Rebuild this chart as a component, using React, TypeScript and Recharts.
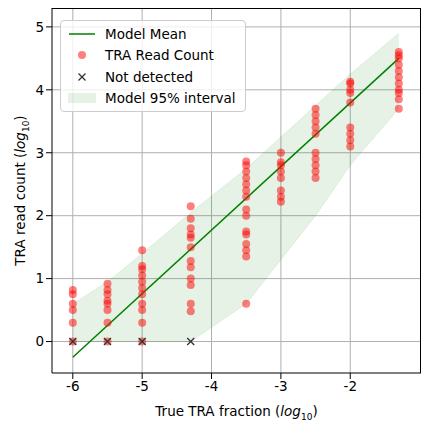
import React from 'react';
import { ComposedChart, Area, Line, Scatter, XAxis, YAxis, CartesianGrid } from 'recharts';

const bandX = [-6, -5.5, -5, -4.3, -3.5, -3, -2.5, -2, -1.3];
const bandLow = [0, 0, 0, 0, 0.6, 1.3, 2.0, 2.8, 3.7];
const bandHigh = [0.6, 0.95, 1.4, 2.05, 2.75, 3.25, 3.75, 4.25, 4.9];

const meanX = [-6, -1.3];
const meanY = [-0.25, 4.5];

const readCounts: [number, number[]][] = [
  [-6, [0, 0.3, 0.5, 0.6, 0.75, 0.82]],
  [-5.5, [0, 0.3, 0.5, 0.6, 0.65, 0.75, 0.82, 0.92]],
  [-5, [0, 0.3, 0.5, 0.6, 0.75, 0.85, 0.95, 1.05, 1.15, 1.2, 1.45]],
  [-4.3, [0.48, 0.6, 0.9, 1.0, 1.18, 1.28, 1.5, 1.65, 1.7, 1.8, 1.95, 2.15]],
  [-3.5, [0.6, 1.35, 1.45, 1.55, 1.7, 1.75, 2.0, 2.1, 2.3, 2.4, 2.5, 2.6, 2.7, 2.8, 2.86]],
  [-3, [2.22, 2.3, 2.4, 2.6, 2.7, 2.8, 2.85, 3.0]],
  [-2.5, [2.6, 2.7, 2.8, 2.9, 3.0, 3.3, 3.4, 3.5, 3.6, 3.7]],
  [-2, [3.1, 3.2, 3.3, 3.4, 3.8, 3.95, 4.0, 4.1, 4.13]],
  [-1.3, [3.7, 3.85, 3.95, 4.0, 4.1, 4.2, 4.3, 4.4, 4.5, 4.55, 4.6]],
];

const notDetectedX = [-6, -5.5, -5, -4.3];

const xTicks = [-6, -5, -4, -3, -2];
const yTicks = [0, 1, 2, 3, 4, 5];

const bandData = bandX.map((x, i) => ({ x, band: [bandLow[i], bandHigh[i]] }));
const meanData = meanX.map((x, i) => ({ x, y: meanY[i] }));
const pointData = readCounts.flatMap(([x, ys]) => ys.map(y => ({ x, y })));
const ndData = notDetectedX.map(x => ({ x, y: 0 }));

const font = 'DejaVu Sans, sans-serif';

const Cross = (props: any) => {
  const { cx, cy } = props;
  const s = 3.5;
  return (
    <g stroke="#333" strokeWidth={1.3}>
      <line x1={cx - s} y1={cy - s} x2={cx + s} y2={cy + s} />
      <line x1={cx - s} y1={cy + s} x2={cx + s} y2={cy - s} />
    </g>
  );
};

const Dot = (props: any) => <circle cx={props.cx} cy={props.cy} r={4} fill="#f00" fillOpacity={0.5} />;

const LegendBox = () => (
  <div style={{ position: 'absolute', left: 60, top: 20, border: '1px solid #ccc', borderRadius: 4, background: 'rgba(255,255,255,0.8)', padding: '2px 6px', fontFamily: font, fontSize: 13.5, width: 172 }}>
    {[
      ['line', 'Model Mean'],
      ['dot', 'TRA Read Count'],
      ['cross', 'Not detected'],
      ['patch', 'Model 95% interval'],
    ].map(([k, t]) => (
      <div key={t} style={{ display: 'flex', alignItems: 'center', height: 21.5 }}>
        <svg width={30} height={14} style={{ marginRight: 8 }}>
          {k === 'line' && <line x1={2} y1={7} x2={28} y2={7} stroke="green" strokeWidth={1.5} />}
          {k === 'dot' && <circle cx={15} cy={7} r={4} fill="#f00" fillOpacity={0.5} />}
          {k === 'cross' && <Cross cx={15} cy={7} />}
          {k === 'patch' && <rect x={1} y={2} width={28} height={10} fill="green" fillOpacity={0.1} />}
        </svg>
        {t}
      </div>
    ))}
  </div>
);

export default function App() {
  return (
    <div style={{ position: 'absolute', left: 0, top: 0, width: 432, height: 432, background: '#fff' }}>
      <ComposedChart width={432} height={432} margin={{ top: 8, right: 11, left: 0, bottom: 9 }}>
        <CartesianGrid stroke="#b0b0b0" horizontalValues={yTicks} verticalValues={xTicks} />
        <XAxis
          dataKey="x"
          type="number"
          domain={[-6.3, -0.98]}
          ticks={xTicks}
          allowDataOverflow
          height={50}
          tick={{ fontSize: 13.5, fill: '#000', fontFamily: font }}
          stroke="#000"
          label={(p: any) => {
            const vb = p.viewBox;
            return (
              <text x={vb.x + vb.width / 2} y={vb.y + 43} textAnchor="middle" fontSize={13.5} fontFamily={font}>
                True TRA fraction (<tspan fontStyle="italic">log</tspan><tspan fontSize={9} dy={4}>10</tspan><tspan dy={-4}>)</tspan>
              </text>
            );
          }}
        />
        <YAxis
          type="number"
          domain={[-0.5, 5.3]}
          ticks={yTicks}
          allowDataOverflow
          width={52}
          tick={{ fontSize: 13.5, fill: '#000', fontFamily: font }}
          stroke="#000"
          label={(p: any) => {
            const vb = p.viewBox;
            const cx = 25;
            const cy = vb.y + vb.height / 2;
            return (
              <text x={cx} y={cy} textAnchor="middle" fontSize={13.5} fontFamily={font} transform={`rotate(-90 ${cx} ${cy})`}>
                TRA read count (<tspan fontStyle="italic">log</tspan><tspan fontSize={9} dy={4}>10</tspan><tspan dy={-4}>)</tspan>
              </text>
            );
          }}
        />
        <Area data={bandData} dataKey="band" type="linear" fill="green" fillOpacity={0.1} stroke="green" strokeOpacity={0.08} isAnimationActive={false} />
        <Line data={meanData} dataKey="y" type="linear" stroke="green" strokeWidth={1.5} dot={false} isAnimationActive={false} />
        <Scatter data={pointData} dataKey="y" shape={Dot} isAnimationActive={false} />
        <Scatter data={ndData} dataKey="y" shape={Cross} isAnimationActive={false} />
      </ComposedChart>
      <div style={{ position: 'absolute', left: 52, top: 8, width: 369, height: 365, borderTop: '1px solid #000', borderRight: '1px solid #000', boxSizing: 'border-box', pointerEvents: 'none' }} />
      <LegendBox />
    </div>
  );
}
